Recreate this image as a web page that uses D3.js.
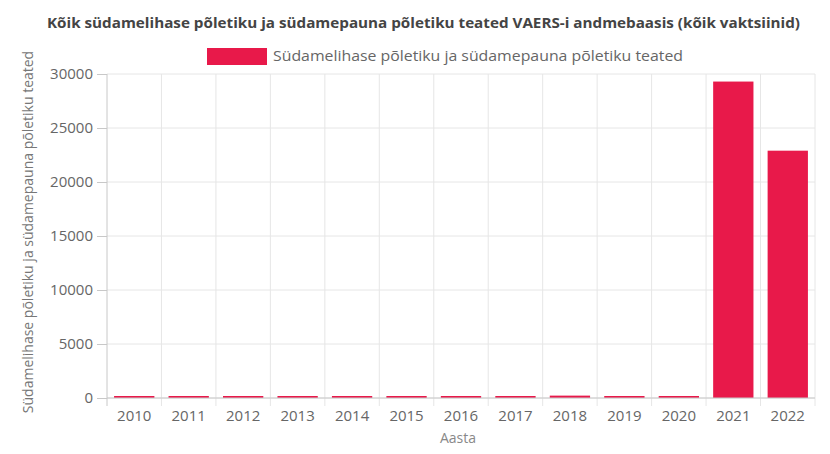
<!DOCTYPE html>
<html><head><meta charset="utf-8">
<script src="https://cdn.jsdelivr.net/npm/d3@7"></script>
<style>body{margin:0;background:#fff;} text{font-family:"Open Sans", Lato, sans-serif;}</style>
</head><body><svg id="c" width="830" height="454"></svg>
<script>
const years = ["2010","2011","2012","2013","2014","2015","2016","2017","2018","2019","2020","2021","2022"];
const values = [50, 50, 150, 150, 60, 60, 60, 60, 220, 120, 150, 29300, 22900];
const yTicks = [0, 5000, 10000, 15000, 20000, 25000, 30000];
const title = "Kõik südamelihase põletiku ja südamepauna põletiku teated VAERS-i andmebaasis (kõik vaktsiinid)";
const legendLabel = "Südamelihase põletiku ja südamepauna põletiku teated";
const yLabel = "Südamelihase põletiku ja südamepauna põletiku teated";
const xLabel = "Aasta";
const barColor = "#e8194a";

const svg = d3.select("#c");
const m = {left:107, right:815, top:74, bottom:398};
const x = d3.scaleBand().domain(years).range([m.left, m.right]).paddingInner(0.26).paddingOuter(0.13);
const xg = d3.scaleBand().domain(years).range([m.left, m.right]);
const y = d3.scaleLinear().domain([0, 30000]).range([m.bottom, m.top]);

// horizontal grid
svg.append("g").selectAll("line").data(yTicks).join("line")
  .attr("x1", m.left).attr("x2", m.right).attr("y1", d=>y(d)).attr("y2", d=>y(d))
  .attr("stroke", "#e6e6e6").attr("stroke-width",1);
// vertical grid
svg.append("g").selectAll("line").data(years.slice(1).concat(["end"])).join("line")
  .attr("x1", (d,i)=> i < years.length-1 ? xg(d) : m.right)
  .attr("x2", (d,i)=> i < years.length-1 ? xg(d) : m.right)
  .attr("y1", m.top).attr("y2", m.bottom+8)
  .attr("stroke", "#e6e6e6");

// bars
svg.append("g").selectAll("rect").data(values).join("rect")
  .attr("x", (d,i)=>x(years[i])).attr("width", x.bandwidth())
  .attr("y", d=>Math.min(y(d), m.bottom-2)).attr("height", d=>Math.max(m.bottom - y(d), 2))
  .attr("fill", barColor);

// y axis
const ya = svg.append("g").attr("transform", `translate(${m.left},0)`)
  .call(d3.axisLeft(y).tickValues(yTicks).tickSize(10).tickPadding(4).tickFormat(d3.format("d")));
ya.select(".domain").attr("stroke", "#c8c8c8").attr("d", `M0,${m.top}V${m.bottom+8}`);
ya.selectAll(".tick line").attr("stroke", "#c8c8c8");
ya.selectAll(".tick text").attr("fill", "#666").attr("font-size", 15).attr("font-family","Lato, sans-serif");

// x axis
const xa = svg.append("g").attr("transform", `translate(0,${m.bottom})`)
  .call(d3.axisBottom(xg).tickSize(0).tickPadding(12));
xa.select(".domain").attr("stroke", "#c8c8c8").attr("d", `M${m.left},0H${m.right}`);
xa.selectAll(".tick text").attr("fill", "#666").attr("font-size", 15).attr("font-family","Lato, sans-serif");

// title
svg.append("text").attr("x", 47).attr("y", 28)
  .attr("font-size", 14).attr("font-weight","bold").attr("fill","#444")
  .attr("textLength", 753).attr("lengthAdjust","spacingAndGlyphs").text(title);
// legend
svg.append("rect").attr("x", 207).attr("y", 48).attr("width", 60).attr("height", 17).attr("fill", barColor);
svg.append("text").attr("x", 273).attr("y", 61).attr("font-size", 14).attr("fill","#666")
  .attr("textLength", 410).attr("lengthAdjust","spacingAndGlyphs").text(legendLabel);
// y label
svg.append("text").attr("transform", "translate(33,232) rotate(-90)").attr("text-anchor","middle")
  .attr("font-size", 14).attr("fill","#777").attr("font-family","Lato, sans-serif").text(yLabel);
// x label
svg.append("text").attr("x", 458).attr("y", 443).attr("text-anchor","middle")
  .attr("font-size", 14).attr("fill","#888").text(xLabel);
</script></body></html>
